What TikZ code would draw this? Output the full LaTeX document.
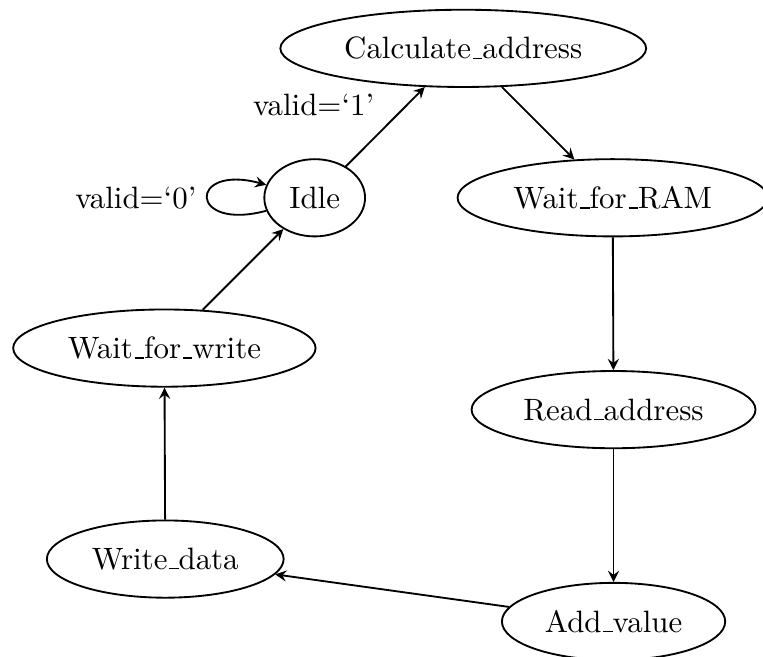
\documentclass[tikz,border=0pt]{standalone}
\usepackage{tikz}
\usetikzlibrary{shapes.geometric}
\newcommand{\us}{\leavevmode\kern.06em\vbox{\hrule width.3em}}

\begin{document}
\begin{tikzpicture}[>=stealth, semithick,
    state/.style={ellipse, draw, minimum height=25pt}]
  \useasboundingbox (0,0) rectangle (8.68,-7.47);
  \node[state] (calc) at (5.27,-0.55) {Calculate\us address};
  \node[state] (idle) at (3.58,-2.25) {Idle};
  \node[state] (ram) at (6.97,-2.25) {Wait\us for\us RAM};
  \node[state] (waitwr) at (1.87,-3.96) {Wait\us for\us write};
  \node[state] (rdaddr) at (6.98,-4.66) {Read\us address};
  \node[state] (wrdata) at (1.88,-6.36) {Write\us data};
  \node[state] (addval) at (6.98,-7.07) {Add\us value};
  \draw[->] (idle) to[loop left] node[left] {valid=`0'} (idle);
  \draw[->] (idle) -- node[above left] {valid=`1'} (calc);
  \draw[->] (calc) -- (ram);
  \draw[->] (ram) -- (rdaddr);
  \draw[->] (rdaddr) -- (addval);
  \draw[->] (addval) -- (wrdata);
  \draw[->] (wrdata) -- (waitwr);
  \draw[->] (waitwr) -- (idle);
\end{tikzpicture}
\end{document}
